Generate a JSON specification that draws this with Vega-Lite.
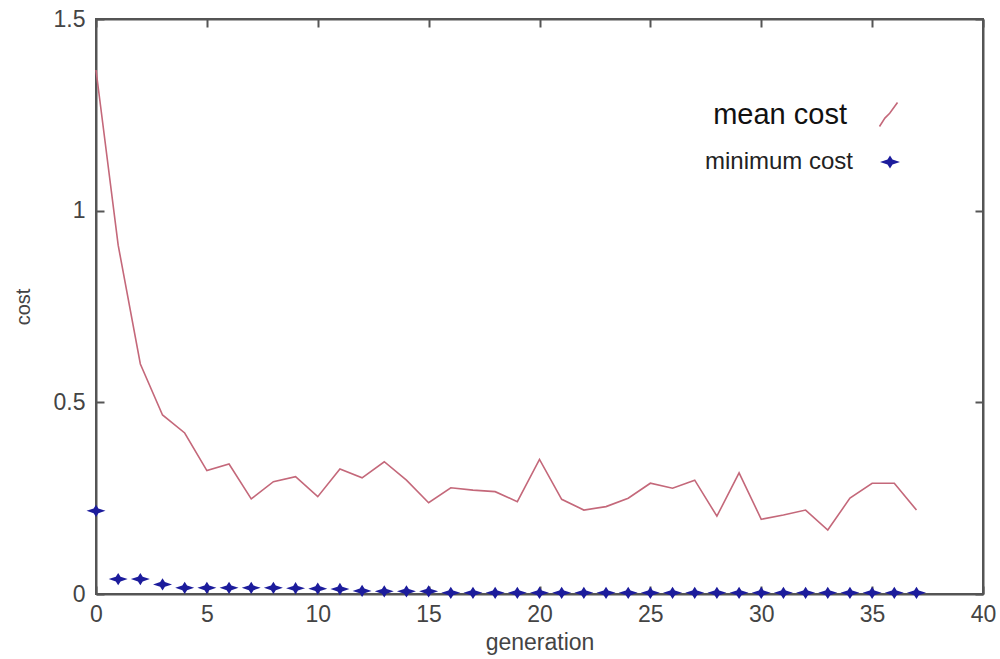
{
  "$schema": "https://vega.github.io/schema/vega-lite/v6.json",
  "autosize": "none",
  "width": 887,
  "height": 575,
  "padding": {"left": 96, "top": 19, "right": 17, "bottom": 65},
  "background": "white",
  "config": {
    "view": {"stroke": "#555555", "strokeWidth": 2},
    "font": "Liberation Sans",
    "axis": {
      "grid": false,
      "domainColor": "#555555",
      "domainWidth": 2,
      "tickColor": "#555555",
      "tickWidth": 2,
      "tickSize": -8,
      "labelFont": "Liberation Sans",
      "labelFontSize": 23,
      "labelColor": "#444444",
      "titleFont": "Liberation Sans",
      "titleFontWeight": "normal",
      "titleColor": "#444444"
    }
  },
  "datasets": {
    "ga": [
      {"generation": 0, "mean": 1.367, "min": 0.217},
      {"generation": 1, "mean": 0.91, "min": 0.039},
      {"generation": 2, "mean": 0.6, "min": 0.039},
      {"generation": 3, "mean": 0.467, "min": 0.025},
      {"generation": 4, "mean": 0.42, "min": 0.016},
      {"generation": 5, "mean": 0.322, "min": 0.016},
      {"generation": 6, "mean": 0.339, "min": 0.016},
      {"generation": 7, "mean": 0.248, "min": 0.016},
      {"generation": 8, "mean": 0.293, "min": 0.016},
      {"generation": 9, "mean": 0.306, "min": 0.015},
      {"generation": 10, "mean": 0.254, "min": 0.014},
      {"generation": 11, "mean": 0.326, "min": 0.013},
      {"generation": 12, "mean": 0.303, "min": 0.008},
      {"generation": 13, "mean": 0.345, "min": 0.007},
      {"generation": 14, "mean": 0.297, "min": 0.007},
      {"generation": 15, "mean": 0.238, "min": 0.007},
      {"generation": 16, "mean": 0.277, "min": 0.003},
      {"generation": 17, "mean": 0.271, "min": 0.003},
      {"generation": 18, "mean": 0.267, "min": 0.003},
      {"generation": 19, "mean": 0.241, "min": 0.003},
      {"generation": 20, "mean": 0.351, "min": 0.003},
      {"generation": 21, "mean": 0.247, "min": 0.003},
      {"generation": 22, "mean": 0.219, "min": 0.003},
      {"generation": 23, "mean": 0.228, "min": 0.003},
      {"generation": 24, "mean": 0.25, "min": 0.003},
      {"generation": 25, "mean": 0.289, "min": 0.003},
      {"generation": 26, "mean": 0.276, "min": 0.003},
      {"generation": 27, "mean": 0.297, "min": 0.003},
      {"generation": 28, "mean": 0.203, "min": 0.003},
      {"generation": 29, "mean": 0.316, "min": 0.003},
      {"generation": 30, "mean": 0.195, "min": 0.003},
      {"generation": 31, "mean": 0.206, "min": 0.003},
      {"generation": 32, "mean": 0.219, "min": 0.003},
      {"generation": 33, "mean": 0.167, "min": 0.003},
      {"generation": 34, "mean": 0.25, "min": 0.003},
      {"generation": 35, "mean": 0.289, "min": 0.003},
      {"generation": 36, "mean": 0.289, "min": 0.003},
      {"generation": 37, "mean": 0.219, "min": 0.003}
    ]
  },
  "data": {"name": "ga"},
  "resolve": {"axis": {"x": "independent", "y": "independent"}},
  "layer": [
    {
      "mark": {"type": "line", "strokeWidth": 1.6},
      "encoding": {
        "x": {
          "field": "generation", "type": "quantitative",
          "scale": {"domain": [0, 40], "nice": false},
          "axis": {"values": [0, 5, 10, 15, 20, 25, 30, 35, 40], "title": "generation", "titleFontSize": 23, "titlePadding": 5, "labelPadding": 17, "labelFlush": false}
        },
        "y": {
          "field": "mean", "type": "quantitative",
          "scale": {"domain": [0, 1.5], "nice": false},
          "axis": {"values": [0, 0.5, 1, 1.5], "title": "cost", "titleFontSize": 20, "titlePadding": 20, "labelPadding": 19, "labelFlush": false, "labelExpr": "datum.value == 0 ? '0' : datum.value == 1 ? '1' : format(datum.value, '.1f')"}
        },
        "stroke": {
          "datum": "mean cost",
          "scale": {"range": ["#c4687a"]},
          "legend": {
            "title": null, "orient": "none", "legendX": 778, "legendY": 81, "padding": 0,
            "symbolType": "M-0.75,1L-0.3,0.3L0.1,-0.1L0.75,-1",
            "symbolSize": 576, "symbolStrokeWidth": 1.6, "symbolFillColor": "transparent",
            "labelAlign": "right", "labelOffset": -56, "labelBaseline": "middle",
            "labelFont": "Liberation Sans", "labelFontSize": 29, "labelFontWeight": "normal", "labelColor": "#111111", "labelLimit": 400
          }
        }
      }
    },
    {
      "mark": {"type": "point", "filled": true, "color": "#1c1c9c", "opacity": 1},
      "encoding": {
        "x": {"field": "generation", "type": "quantitative", "axis": null},
        "y": {"field": "min", "type": "quantitative", "axis": null},
        "shape": {
          "datum": "minimum cost",
          "scale": {"range": ["M0,-0.65L0.25,-0.25L1,0L0.25,0.25L0,0.65L-0.25,0.25L-1,0L-0.25,-0.25Z"]},
          "legend": {
            "title": null, "orient": "none", "legendX": 782, "legendY": 131, "padding": 0,
            "symbolSize": 400, "symbolFillColor": "#1c1c9c", "symbolStrokeWidth": 0, "symbolOpacity": 1,
            "labelAlign": "right", "labelOffset": -49, "labelBaseline": "middle",
            "labelFont": "Liberation Sans", "labelFontSize": 24, "labelColor": "#222222", "labelLimit": 400
          }
        },
        "size": {"value": 360}
      }
    },
    {
      "mark": {"type": "point", "opacity": 0},
      "encoding": {
        "x": {
          "field": "generation", "type": "quantitative",
          "axis": {"orient": "top", "values": [0, 5, 10, 15, 20, 25, 30, 35, 40], "labels": false, "title": null}
        },
        "y": {
          "field": "mean", "type": "quantitative",
          "axis": {"orient": "right", "values": [0, 0.5, 1, 1.5], "labels": false, "title": null}
        }
      }
    }
  ]
}
